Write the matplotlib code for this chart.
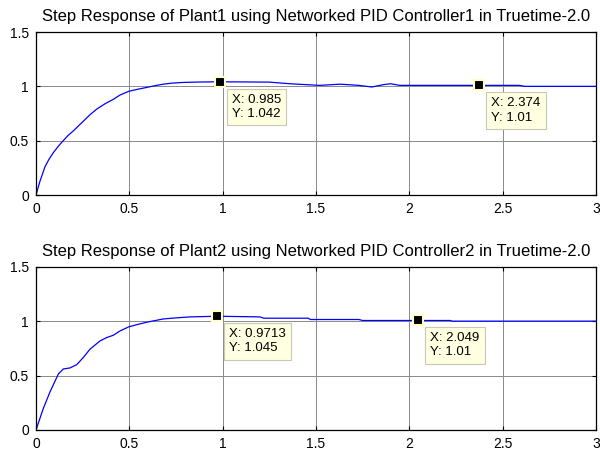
import numpy as np
import matplotlib
matplotlib.use('Agg')
import matplotlib.pyplot as plt

plt.rcParams['font.family'] = ['Liberation Sans', 'DejaVu Sans']

# Plant 1 step response
t1 = [0, 0.02, 0.048, 0.07, 0.093, 0.12, 0.146, 0.17, 0.2, 0.23, 0.254, 0.29, 0.325, 0.37,
      0.414, 0.45, 0.498, 0.55, 0.593, 0.64, 0.682, 0.73, 0.789, 0.88, 0.985,
      1.25, 1.36, 1.52, 1.63, 1.73, 1.80, 1.86, 1.90, 1.95, 2.59, 2.62, 3.0]
y1 = [0, 0.12, 0.26, 0.33, 0.39, 0.45, 0.50, 0.545, 0.59, 0.64, 0.68, 0.74, 0.79, 0.84,
      0.88, 0.92, 0.955, 0.975, 0.99, 1.007, 1.02, 1.03, 1.036, 1.04, 1.042,
      1.039, 1.024, 1.009, 1.02, 1.009, 0.994, 1.015, 1.024, 1.009, 1.009, 1.0, 1.0]

# Plant 2 step response
t2 = [0, 0.039, 0.075, 0.12, 0.146, 0.182, 0.218, 0.254, 0.289, 0.343, 0.38, 0.414, 0.45,
      0.498, 0.55, 0.593, 0.64, 0.682, 0.75, 0.825, 0.9713, 1.2, 1.22, 1.46, 1.47, 1.73,
      1.75, 2.22, 2.23, 3.0]
y2 = [0, 0.197, 0.35, 0.515, 0.56, 0.57, 0.60, 0.667, 0.742, 0.818, 0.85, 0.87, 0.91,
      0.948, 0.972, 0.99, 1.006, 1.02, 1.03, 1.039, 1.045, 1.039, 1.027, 1.027, 1.015, 1.015,
      1.006, 1.006, 1.0, 1.0]

titles = ['Step Response of Plant1 using Networked PID Controller1 in Truetime-2.0',
          'Step Response of Plant2 using Networked PID Controller2 in Truetime-2.0']
tips1 = [(0.985, 1.042, '0.985', '1.042'), (2.374, 1.01, '2.374', '1.01')]
tips2 = [(0.9713, 1.045, '0.9713', '1.045'), (2.049, 1.01, '2.049', '1.01')]

fig = plt.figure(figsize=(6, 4.51), dpi=100)
ax1 = fig.add_axes([0.06, 0.5676, 0.933, 0.3614])
ax2 = fig.add_axes([0.06, 0.0466, 0.933, 0.362])

for ax, t, y, title, tips in [(ax1, t1, y1, titles[0], tips1), (ax2, t2, y2, titles[1], tips2)]:
    ax.plot(t, y, color='#0000ff', lw=0.9)
    ax.set_xlim(0, 3)
    ax.set_ylim(0, 1.5)
    ax.set_xticks([0, 0.5, 1, 1.5, 2, 2.5, 3])
    ax.set_xticklabels(['0', '0.5', '1', '1.5', '2', '2.5', '3'])
    ax.set_yticks([0, 0.5, 1, 1.5])
    ax.set_yticklabels(['0', '0.5', '1', '1.5'])
    ax.grid(True, color='#8a8a8a', lw=0.7)
    ax.tick_params(direction='in', top=True, right=True, length=3, labelsize=10,
                   width=0.8, pad=5)
    for s in ax.spines.values():
        s.set_linewidth(0.9)
    ax.set_title(title, fontsize=12, pad=8)
    for (tx, ty, sx, sy) in tips:
        ax.plot(tx, ty, 's', color='black', markersize=7, markeredgecolor='#ffffc8',
                markeredgewidth=1.5, zorder=5)
        ax.annotate('X: %s\nY: %s' % (sx, sy), xy=(tx, ty), xytext=(12, -12),
                    textcoords='offset pixels', ha='left', va='top', fontsize=9.5,
                    linespacing=1.25,
                    bbox=dict(boxstyle='square,pad=0.4', fc='#ffffe1', ec='#c8c8b4', lw=0.8),
                    zorder=6)

fig.savefig('out.png', dpi=100)
